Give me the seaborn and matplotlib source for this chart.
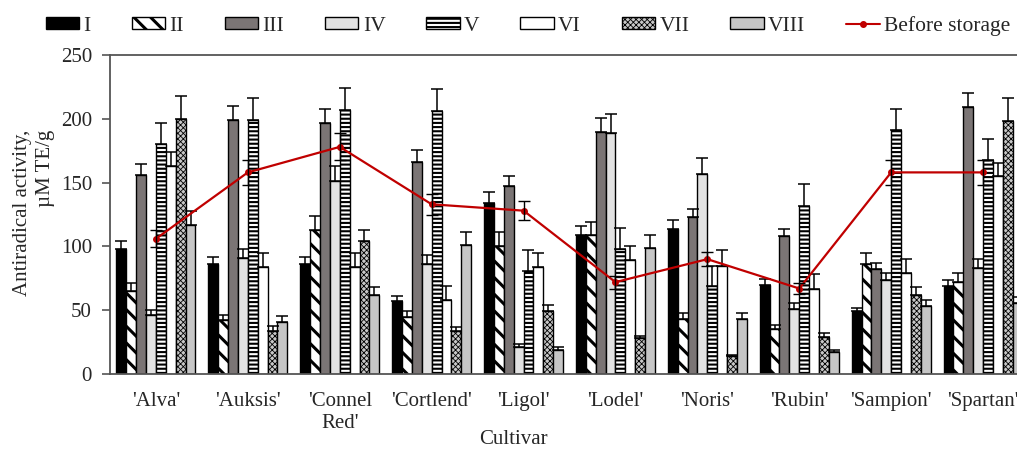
import numpy as np
import pandas as pd
import matplotlib
matplotlib.use("Agg")
import matplotlib.pyplot as plt
from matplotlib.patches import Patch
from matplotlib.lines import Line2D
import seaborn as sns

# ---- data -------------------------------------------------------------
cultivars = ["'Alva'", "'Auksis'", "'Connel\nRed'", "'Cortlend'", "'Ligol'",
             "'Lodel'", "'Noris'", "'Rubin'", "'Sampion'", "'Spartan'"]
storage_groups = ["I", "II", "III", "IV", "V", "VI", "VII", "VIII"]

group_I = [98, 86, 86, 57, 134, 109, 114, 70, 49, 69]
group_II = [65, 42, 113, 45, 100, 109, 43, 35, 86, 72]
group_III = [156, 199, 197, 166, 147, 190, 123, 108, 82, 209]
group_IV = [46, 91, 151, 86, 21, 189, 157, 51, 74, 83]
group_V = [180, 199, 207, 206, 81, 98, 69, 132, 191, 168]
group_VI = [163, 84, 84, 58, 84, 89, 85, 67, 79, 155]
group_VII = [200, 34, 104, 34, 49, 28, 14, 29, 62, 198]
group_VIII = [117, 41, 62, 101, 19, 99, 43, 17, 53, 56]

err_I = [6.5, 6, 6, 4, 9, 7, 7, 4.5, 3, 5]
err_II = [6.5, 4, 11, 4, 11, 10, 5, 3.5, 9, 7.5]
err_III = [8.5, 11, 11, 9.5, 8, 11, 6.5, 6, 5, 11]
err_IV = [4, 7, 12, 7, 2.5, 15, 12, 4.5, 5.5, 7]
err_V = [17, 17, 17, 17, 16.5, 16.5, 16, 17, 16.5, 16.5]
err_VI = [11, 11, 11, 11, 11, 11, 12, 11, 11, 10]
err_VII = [17.5, 4, 9, 3, 5, 2, 1, 3.5, 6, 18]
err_VIII = [11, 4.5, 6, 10.5, 2, 10, 4.5, 1.5, 5, 4]

before_storage = [106, 158, 178, 133, 128, 72, 90, 67, 158, 158]
before_err = [6.5, 10, 10.5, 8, 7.5, 5, 5.5, 4, 10, 10]

values = [group_I, group_II, group_III, group_IV,
          group_V, group_VI, group_VII, group_VIII]
errors = [err_I, err_II, err_III, err_IV, err_V, err_VI, err_VII, err_VIII]

# ---- styling ------------------------------------------------------------
sns.set_style("white")
plt.rcParams["font.family"] = ["Liberation Serif", "DejaVu Serif"]
plt.rcParams["font.size"] = 15

bar_styles = {
    "I":    dict(fc="black",   hatch=None,     hlw=1.0),
    "II":   dict(fc="white",   hatch="\\\\",   hlw=2.2),
    "III":  dict(fc="#7b7575", hatch=None,     hlw=1.0),
    "IV":   dict(fc="#e2e2e2", hatch=None,     hlw=1.0),
    "V":    dict(fc="white",   hatch="----",   hlw=1.5),
    "VI":   dict(fc="white",   hatch=None,     hlw=1.0),
    "VII":  dict(fc="#c8c8c8", hatch="xxxxxx", hlw=0.6),
    "VIII": dict(fc="#c6c6c6", hatch=None,     hlw=1.0),
}


def style_patch(p, st):
    p.set_facecolor(st["fc"])
    p.set_edgecolor("black")
    p.set_linewidth(1.0)
    if st["hatch"]:
        p.set_hatch(st["hatch"])
        if hasattr(p, "set_hatch_linewidth"):
            p.set_hatch_linewidth(st["hlw"])


records = []
for grp, vals in zip(storage_groups, values):
    for cv, v in zip(cultivars, vals):
        records.append({"Cultivar": cv, "Group": grp, "Activity": v})
df = pd.DataFrame(records)

fig = plt.figure(figsize=(10.17, 4.5), dpi=100)
ax = fig.add_axes([110 / 1017, 76 / 450, 919 / 1017, 319 / 450])

sns.barplot(data=df, x="Cultivar", y="Activity", hue="Group",
            order=cultivars, hue_order=storage_groups,
            width=0.86, gap=0, dodge=True, errorbar=None,
            palette=["white"] * len(storage_groups),
            legend=False, ax=ax, zorder=2)

for grp, cont, errs in zip(storage_groups, ax.containers, errors):
    st = bar_styles[grp]
    xs, hs = [], []
    for bar in cont:
        style_patch(bar, st)
        xs.append(bar.get_x() + bar.get_width() / 2)
        hs.append(bar.get_height())
    ax.errorbar(xs, hs, yerr=[np.zeros(len(errs)), errs], fmt="none",
                ecolor="black", elinewidth=1.1, capsize=4, capthick=1.1,
                zorder=3)

positions = np.arange(len(cultivars))
sns.lineplot(x=positions, y=before_storage, ax=ax, color="#c00000",
             lw=1.6, marker="o", markersize=5, markeredgewidth=0,
             zorder=5)
ax.errorbar(positions, before_storage, yerr=before_err, fmt="none",
            ecolor="black", elinewidth=1.0, capsize=4, capthick=1.0,
            zorder=6)

ax.set_xlim(-0.5, len(cultivars) - 0.5)
ax.set_ylim(0, 250)
ax.set_yticks(np.arange(0, 251, 50))
ax.set_xticks(positions)
ax.set_xticklabels(cultivars, fontsize=15, linespacing=1.2)
ax.tick_params(axis="x", length=0, pad=13)
ax.tick_params(axis="y", length=6, width=1.2, color="#555555",
               direction="out", left=True, labelsize=15, pad=7)

ax.set_xlabel("Cultivar", fontsize=15, va="center", ha="center")
ax.xaxis.set_label_coords((513 - 110) / 919, (374 - 440) / 319)
ax.set_ylabel("Antiradical activity,\nµM TE/g", fontsize=15,
              linespacing=1.25, va="center", ha="center",
              multialignment="right")
ax.yaxis.set_label_coords((34 - 110) / 919, (374 - 213) / 319)

for side in ["left", "top", "bottom", "right"]:
    ax.spines[side].set_visible(True)
    ax.spines[side].set_color("#555555")
    ax.spines[side].set_linewidth(1.3)

# ---- legend -------------------------------------------------------------
handles = []
for grp in storage_groups:
    st = bar_styles[grp]
    handles.append(Patch(facecolor=st["fc"], edgecolor="black",
                         hatch=st["hatch"], linewidth=1.0, label=grp))
handles.append(Line2D([0], [0], color="#c00000", lw=1.5, marker="o",
                      markersize=4, label="Before storage"))

leg = fig.legend(handles=handles, loc="center", ncol=9,
                 bbox_to_anchor=(528 / 1017, 1 - 26 / 450), frameon=False,
                 fontsize=15.5, handlelength=1.55, handleheight=0.5,
                 handletextpad=0.2, columnspacing=1.9, borderpad=0.2)
for grp, p in zip(storage_groups, leg.get_patches()):
    st = bar_styles[grp]
    if st["hatch"] and hasattr(p, "set_hatch_linewidth"):
        p.set_hatch_linewidth(st["hlw"])

fig.savefig("out.png", dpi=100)
